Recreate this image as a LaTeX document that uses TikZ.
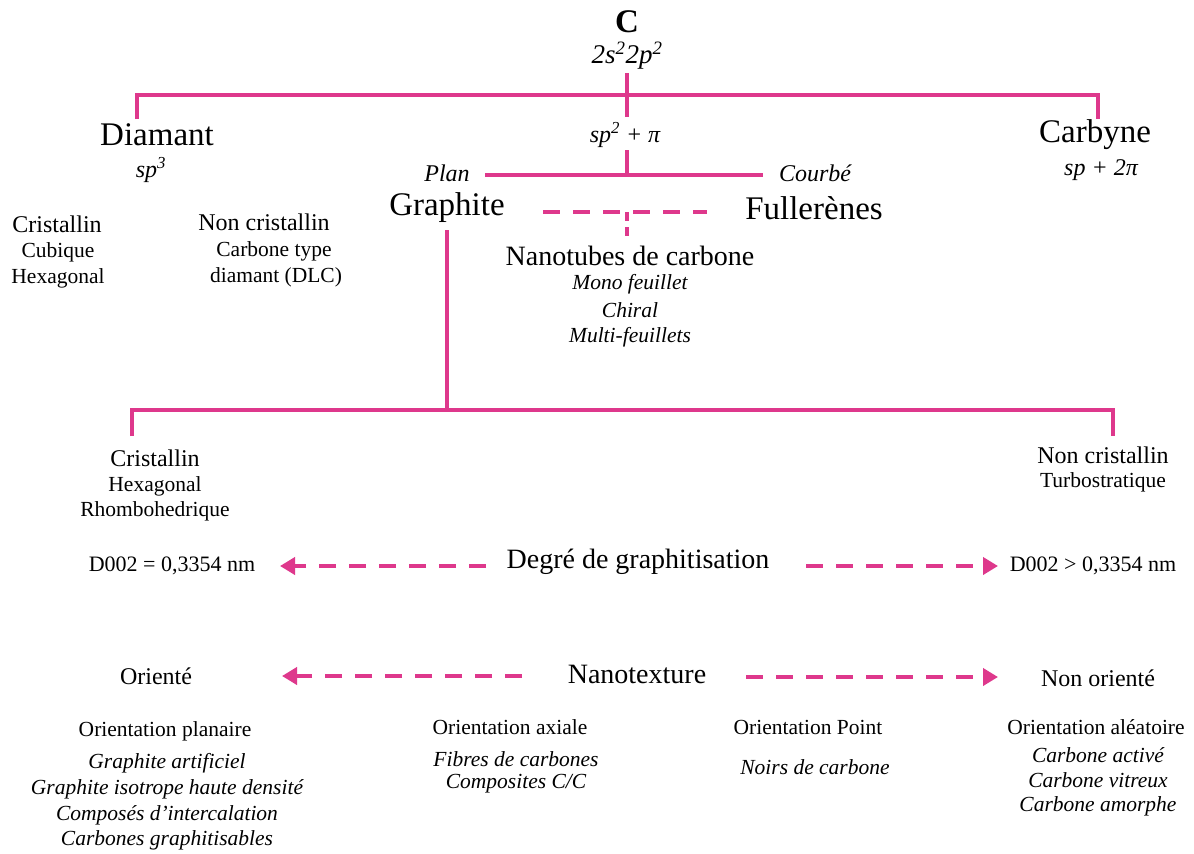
\documentclass[tikz,border=0pt]{standalone}
\usepackage{fontspec}
\setmainfont{Liberation Serif}
\usetikzlibrary{arrows.meta}
\definecolor{mag}{RGB}{222,56,140}
\begin{document}
\begin{tikzpicture}[x=1pt,y=-1pt,
  big/.style={font=\fontsize{33}{36}\selectfont, inner sep=0pt},
  deg/.style={font=\fontsize{28}{32}\selectfont, inner sep=0pt},
  mid/.style={font=\fontsize{24}{27}\selectfont, inner sep=0pt},
  sml/.style={font=\fontsize{21.5}{25}\selectfont, inner sep=0pt},
  ln/.style={draw=mag, line width=4pt},
  dsh/.style={draw=mag, line width=4pt, dash pattern=on 17pt off 13pt},
  arr/.style={draw=mag, line width=4pt, dash pattern=on 17pt off 13pt, -{Triangle[length=15pt,width=17pt]}},
]
\useasboundingbox (0,0) rectangle (1194,854);
\fill[white] (0,0) rectangle (1194,854);

% top
\node[big, font=\fontsize{33}{36}\selectfont\bfseries] (C) at (627,22) {C};
\node[deg, font=\fontsize{27}{30}\selectfont\itshape] (conf) at (627,56) {2s\textsuperscript{2}2p\textsuperscript{2}};

\node[big] (diam) at (157,135) {Diamant};
\node[mid, font=\fontsize{24}{27}\selectfont\itshape] (sp3) at (151,170) {sp\textsuperscript{3}};
\node[big] (carb) at (1095,135) {Carbyne};
\node[mid, font=\fontsize{24}{27}\selectfont\itshape] (sp) at (1101,170) {sp + 2π};
\node[mid, font=\fontsize{24}{27}\selectfont\itshape] (sp2) at (625,135) {sp\textsuperscript{2} + π};

\coordinate (tl) at (137,95);
\coordinate (tr) at (1098,95);
\coordinate (tm) at (627,95);
\coordinate (tld) at (137,119);
\coordinate (trd) at (1098,119);
\coordinate (tmu) at (627,73);
\coordinate (tmd) at (627,117);
\draw[ln] (tld) -- (tl) -- (tr) -- (trd);
\draw[ln] (tmu) -- (tmd);

% plan / courbe
\node[mid, font=\fontsize{24}{27}\selectfont\itshape] (plan) at (447,173) {Plan};
\node[mid, font=\fontsize{24}{27}\selectfont\itshape] (courbe) at (815,173) {Courbé};
\coordinate (pl) at (485,175);
\coordinate (pr) at (763,175);
\coordinate (pm) at (627,175);
\coordinate (pmu) at (627,150);
\draw[ln] (pl) -- (pr);
\draw[ln] (pmu) -- (pm);

\node[big] (graph) at (447,208) {Graphite};
\node[big] (full) at (814,208) {Fullerènes};
\coordinate (dl) at (543,212);
\coordinate (dr) at (707,212);
\coordinate (dm) at (627,212);
\coordinate (dmd) at (627,238);
\draw[dsh] (dl) -- (dr);
\draw[draw=mag, line width=4pt, dash pattern=on 9pt off 6pt] (dm) -- (dmd);

\node[deg] (nano) at (630,256) {Nanotubes de carbone};
\node[sml, font=\fontsize{21.5}{25}\selectfont\itshape] (mono) at (630,284) {Mono feuillet};
\node[sml, font=\fontsize{21.5}{25}\selectfont\itshape] (chir) at (630,310) {Chiral};
\node[sml, font=\fontsize{21.5}{25}\selectfont\itshape] (multi) at (630,337) {Multi-feuillets};

% diamond sub
\node[mid] (cr1) at (57,224) {Cristallin};
\node[sml] (cub) at (58,252) {Cubique};
\node[sml] (hex1) at (58,278) {Hexagonal};
\node[mid] (nc1) at (264,222) {Non cristallin};
\node[sml] (ct) at (274,251) {Carbone type};
\node[sml] (dlc) at (276,277) {diamant (DLC)};

% graphite tree
\coordinate (gt) at (447,230);
\coordinate (gm) at (447,410);
\coordinate (gl) at (132,410);
\coordinate (gr) at (1113,410);
\coordinate (gld) at (132,436);
\coordinate (grd) at (1113,436);
\draw[ln] (gt) -- (gm);
\draw[ln] (gld) -- (gl) -- (gr) -- (grd);

\node[mid] (cr2) at (155,458) {Cristallin};
\node[sml] (hex2) at (155,486) {Hexagonal};
\node[sml] (rho) at (155,511) {Rhombohedrique};
\node[mid] (nc2) at (1103,455) {Non cristallin};
\node[sml] (turb) at (1103,482) {Turbostratique};

% degre
\node[sml, font=\fontsize{22}{25}\selectfont] (d1) at (172,566) {D002 = 0,3354 nm};
\node[deg] (degr) at (638,562) {Degré de graphitisation};
\node[sml, font=\fontsize{22}{25}\selectfont] (d2) at (1093,566) {D002 > 0,3354 nm};
\coordinate (a1s) at (486,566);
\coordinate (a1e) at (280,566);
\coordinate (a2s) at (806,566);
\coordinate (a2e) at (998,566);
\draw[arr] (a1s) -- (a1e);
\draw[arr] (a2s) -- (a2e);

% nanotexture
\node[mid] (or) at (156,676) {Orienté};
\node[deg] (ntx) at (637,674) {Nanotexture};
\node[mid] (nor) at (1098,678) {Non orienté};
\coordinate (b1s) at (522,676);
\coordinate (b1e) at (282,676);
\coordinate (b2s) at (746,677);
\coordinate (b2e) at (998,677);
\draw[arr] (b1s) -- (b1e);
\draw[arr] (b2s) -- (b2e);

% bottom
\node[sml] (op) at (165,731) {Orientation planaire};
\node[sml, font=\fontsize{21.5}{25}\selectfont\itshape] (op1) at (167,763) {Graphite artificiel};
\node[sml, font=\fontsize{21.5}{25}\selectfont\itshape] (op2) at (167,789) {Graphite isotrope haute densité};
\node[sml, font=\fontsize{21.5}{25}\selectfont\itshape] (op3) at (167,815) {Composés d’intercalation};
\node[sml, font=\fontsize{21.5}{25}\selectfont\itshape] (op4) at (167,840) {Carbones graphitisables};

\node[sml] (oa) at (510,727) {Orientation axiale};
\node[sml, font=\fontsize{21.5}{25}\selectfont\itshape] (oa1) at (516,759) {Fibres de carbones};
\node[sml, font=\fontsize{21.5}{25}\selectfont\itshape] (oa2) at (516,784) {Composites C/C};

\node[sml] (opt) at (808,727) {Orientation Point};
\node[sml, font=\fontsize{21.5}{25}\selectfont\itshape] (opt1) at (815,767) {Noirs de carbone};

\node[sml] (oal) at (1096,727) {Orientation aléatoire};
\node[sml, font=\fontsize{21.5}{25}\selectfont\itshape] (oal1) at (1098,755) {Carbone activé};
\node[sml, font=\fontsize{21.5}{25}\selectfont\itshape] (oal2) at (1098,780) {Carbone vitreux};
\node[sml, font=\fontsize{21.5}{25}\selectfont\itshape] (oal3) at (1098,806) {Carbone amorphe};
\end{tikzpicture}
\end{document}
